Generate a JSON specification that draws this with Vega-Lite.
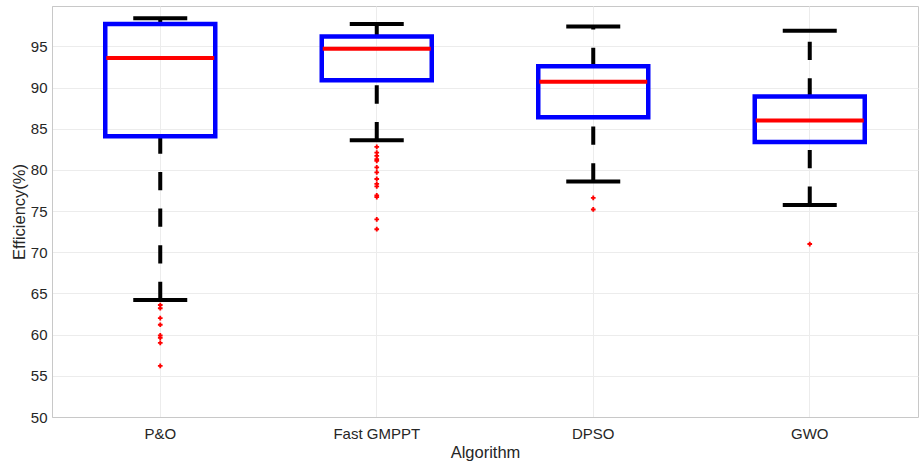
{
  "$schema": "https://vega.github.io/schema/vega-lite/v6.json",
  "width": 866,
  "height": 411,
  "autosize": {"type": "none"},
  "padding": {"left": 52, "top": 6, "right": 3, "bottom": 46},
  "background": "white",
  "config": {
    "font": "Liberation Sans",
    "view": {"stroke": "#c8c8c8", "strokeWidth": 1},
    "axis": {
      "labelFont": "Liberation Sans",
      "titleFont": "Liberation Sans",
      "labelColor": "#262626",
      "titleColor": "#262626",
      "labelFontSize": 15,
      "titleFontSize": 16.5,
      "titleFontWeight": "normal",
      "gridColor": "#ececec",
      "gridWidth": 1,
      "domainColor": "#c8c8c8",
      "ticks": false
    }
  },
  "datasets": {
    "stats": [
      {"algorithm": "P&O", "lo": 64.2, "q1": 84.1, "median": 93.6, "q3": 97.7, "hi": 98.4},
      {"algorithm": "Fast GMPPT", "lo": 83.6, "q1": 90.9, "median": 94.7, "q3": 96.2, "hi": 97.7},
      {"algorithm": "DPSO", "lo": 78.6, "q1": 86.4, "median": 90.7, "q3": 92.6, "hi": 97.4},
      {"algorithm": "GWO", "lo": 75.75, "q1": 83.4, "median": 86.0, "q3": 88.9, "hi": 96.9}
    ],
    "outliers": [
      {"algorithm": "P&O", "value": 63.6},
      {"algorithm": "P&O", "value": 63.2},
      {"algorithm": "P&O", "value": 62.0},
      {"algorithm": "P&O", "value": 61.2},
      {"algorithm": "P&O", "value": 59.9},
      {"algorithm": "P&O", "value": 59.6},
      {"algorithm": "P&O", "value": 59.0},
      {"algorithm": "P&O", "value": 56.2},
      {"algorithm": "Fast GMPPT", "value": 82.8},
      {"algorithm": "Fast GMPPT", "value": 82.1},
      {"algorithm": "Fast GMPPT", "value": 81.7},
      {"algorithm": "Fast GMPPT", "value": 81.3},
      {"algorithm": "Fast GMPPT", "value": 81.1},
      {"algorithm": "Fast GMPPT", "value": 80.3},
      {"algorithm": "Fast GMPPT", "value": 79.7},
      {"algorithm": "Fast GMPPT", "value": 78.9},
      {"algorithm": "Fast GMPPT", "value": 78.3},
      {"algorithm": "Fast GMPPT", "value": 78.0},
      {"algorithm": "Fast GMPPT", "value": 76.9},
      {"algorithm": "Fast GMPPT", "value": 76.7},
      {"algorithm": "Fast GMPPT", "value": 74.0},
      {"algorithm": "Fast GMPPT", "value": 72.8},
      {"algorithm": "DPSO", "value": 76.6},
      {"algorithm": "DPSO", "value": 75.2},
      {"algorithm": "GWO", "value": 71.0}
    ]
  },
  "encoding": {
    "x": {
      "field": "algorithm",
      "type": "nominal",
      "sort": ["P&O", "Fast GMPPT", "DPSO", "GWO"],
      "scale": {"paddingInner": 0, "paddingOuter": 0},
      "axis": {
        "title": "Algorithm",
        "labelAngle": 0,
        "labelPadding": 9,
        "titlePadding": 3,
        "bandPosition": 0.5,
        "grid": true
      }
    }
  },
  "layer": [
    {
      "data": {"name": "stats"},
      "mark": {"type": "rule", "color": "black", "strokeWidth": 4, "strokeDash": [18.3, 18.3], "strokeCap": "butt"},
      "encoding": {
        "y": {
          "field": "lo",
          "type": "quantitative",
          "scale": {"domain": [50, 99.9], "nice": false, "zero": false},
          "axis": {
            "title": "Efficiency(%)",
            "values": [50, 55, 60, 65, 70, 75, 80, 85, 90, 95],
            "labelPadding": 5,
            "titlePadding": 3,
            "grid": true
          }
        },
        "y2": {"field": "q1"}
      }
    },
    {
      "data": {"name": "stats"},
      "mark": {"type": "rule", "color": "black", "strokeWidth": 4, "strokeDash": [18.3, 18.3], "strokeCap": "butt"},
      "encoding": {
        "y": {"field": "q3", "type": "quantitative"},
        "y2": {"field": "hi"}
      }
    },
    {
      "data": {"name": "stats"},
      "mark": {"type": "tick", "color": "black", "size": 54, "thickness": 4, "opacity": 1},
      "encoding": {"y": {"field": "lo", "type": "quantitative"}}
    },
    {
      "data": {"name": "stats"},
      "mark": {"type": "tick", "color": "black", "size": 54, "thickness": 4, "opacity": 1},
      "encoding": {"y": {"field": "hi", "type": "quantitative"}}
    },
    {
      "data": {"name": "stats"},
      "mark": {"type": "bar", "width": 110, "fill": "transparent", "stroke": "#0000ff", "strokeWidth": 4.5},
      "encoding": {
        "y": {"field": "q1", "type": "quantitative"},
        "y2": {"field": "q3"}
      }
    },
    {
      "data": {"name": "stats"},
      "mark": {"type": "tick", "color": "#ff0000", "size": 108, "thickness": 4, "opacity": 1},
      "encoding": {"y": {"field": "median", "type": "quantitative"}}
    },
    {
      "data": {"name": "outliers"},
      "mark": {"type": "point", "shape": "cross", "filled": true, "color": "#ff0000", "size": 22, "opacity": 1},
      "encoding": {"y": {"field": "value", "type": "quantitative"}}
    }
  ]
}
